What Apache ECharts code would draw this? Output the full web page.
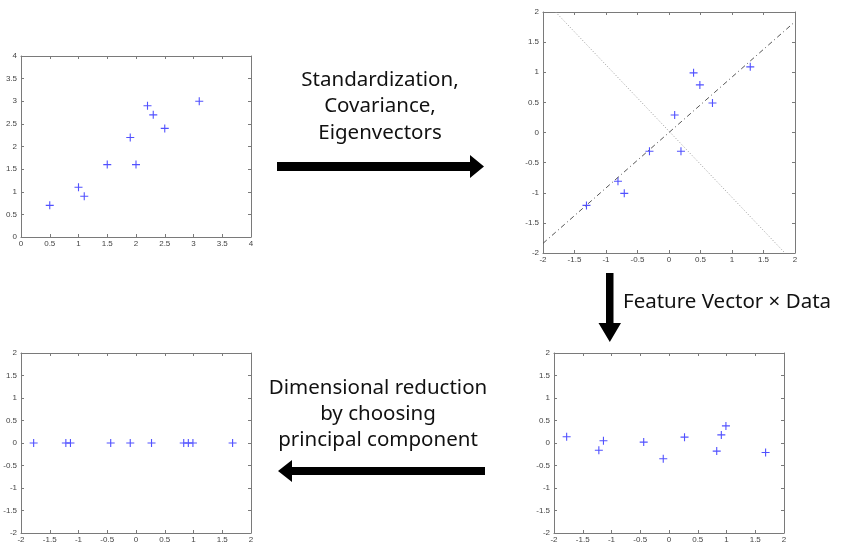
<!DOCTYPE html>
<html>
<head>
<meta charset="utf-8">
<title>PCA steps</title>
<script src="https://cdn.jsdelivr.net/npm/echarts@6/dist/echarts.min.js"></script>
<style>
  html, body { margin: 0; padding: 0; background: #fff; }
  #chart { width: 848px; height: 544px; }
</style>
</head>
<body>
<div id="chart"></div>
<script>
// Original data
const origX = [2.5, 0.5, 2.2, 1.9, 3.1, 2.3, 2.0, 1.0, 1.5, 1.1];
const origY = [2.4, 0.7, 2.9, 2.2, 3.0, 2.7, 1.6, 1.1, 1.6, 0.9];

// Mean-adjusted data
const adjX = [0.69, -1.31, 0.39, 0.09, 1.29, 0.49, 0.19, -0.81, -0.31, -0.71];
const adjY = [0.49, -1.21, 0.99, 0.29, 1.09, 0.79, -0.31, -0.81, -0.31, -1.01];

// Eigenvector directions through the origin (endpoints on the box)
const eigenMain = [[-2, -1.84], [2, 1.84]];
const eigenMinor = [[-1.8, 2], [1.84, -2]];

// Data expressed in the eigenvector basis
const pcX = [0.83, -1.78, 0.99, 0.27, 1.68, 0.91, -0.10, -1.14, -0.44, -1.22];
const pcY = [-0.18, 0.14, 0.38, 0.13, -0.21, 0.18, -0.35, 0.05, 0.02, -0.16];

// Keeping only the principal component
const reducedY = [0, 0, 0, 0, 0, 0, 0, 0, 0, 0];

// Tick settings per panel
const ticks1 = { min: 0, max: 4, interval: 0.5 };
const ticksSym = { min: -2, max: 2, interval: 0.5 };

const pair = (xs, ys) => xs.map((x, i) => [x, ys[i]]);

const grids = [
  { left: 21, top: 56, width: 230, height: 181 },
  { left: 543, top: 12, width: 252, height: 241 },
  { left: 21, top: 353, width: 230, height: 181 },
  { left: 554, top: 353, width: 230, height: 181 }
];
const ranges = [ticks1, ticksSym, ticksSym, ticksSym];

const lineColor = '#7a7a7a';
const labelStyle = { fontSize: 8, color: '#444', fontFamily: 'Liberation Sans, Arial, sans-serif' };

const xAxes = [], yAxes = [];
grids.forEach((g, i) => {
  const r = ranges[i];
  ['bottom', 'top'].forEach(pos => {
    xAxes.push({
      type: 'value', gridIndex: i, position: pos,
      min: r.min, max: r.max, interval: r.interval,
      axisLine: { show: true, onZero: false, lineStyle: { color: lineColor, width: 1 } },
      axisTick: { show: true, inside: true, length: 3, lineStyle: { color: lineColor } },
      axisLabel: Object.assign({ show: pos === 'bottom', margin: 3 }, labelStyle),
      splitLine: { show: false }
    });
  });
  ['left', 'right'].forEach(pos => {
    yAxes.push({
      type: 'value', gridIndex: i, position: pos,
      min: r.min, max: r.max, interval: r.interval,
      axisLine: { show: true, onZero: false, lineStyle: { color: lineColor, width: 1 } },
      axisTick: { show: true, inside: true, length: 3, lineStyle: { color: lineColor } },
      axisLabel: Object.assign({ show: pos === 'left', margin: 4 }, labelStyle),
      splitLine: { show: false }
    });
  });
});

const plus = 'path://M5,0 L5,10 M0,5 L10,5';
const markerStyle = { color: 'transparent', borderColor: '#2626ff', borderWidth: 1.1 };
const scatter = (idx, data) => ({
  type: 'scatter', xAxisIndex: idx * 2, yAxisIndex: idx * 2,
  data: data, symbol: plus, symbolSize: 8, itemStyle: markerStyle, silent: true
});

const series = [
  scatter(0, pair(origX, origY)),
  {
    type: 'line', xAxisIndex: 2, yAxisIndex: 2, data: eigenMinor, symbol: 'none', silent: true,
    lineStyle: { color: '#9a9a9a', width: 1, type: [1, 2] }, clip: true
  },
  {
    type: 'line', xAxisIndex: 2, yAxisIndex: 2, data: eigenMain, symbol: 'none', silent: true,
    lineStyle: { color: '#555', width: 1, type: [5, 3, 1, 3] }, clip: true
  },
  scatter(1, pair(adjX, adjY)),
  scatter(2, pair(pcX, reducedY)),
  scatter(3, pair(pcX, pcY))
];

const textFont = '"Noto Sans", "Open Sans", sans-serif';
const label = (x, y, text, align) => ({
  type: 'text', x: x, y: y, silent: true,
  style: { text: text, fill: '#111', font: '20.5px ' + textFont, align: align || 'center', verticalAlign: 'middle' }
});

const graphic = [
  label(380, 80, 'Standardization,'),
  label(380, 106, 'Covariance,'),
  label(380, 133, 'Eigenvectors'),
  { // right arrow
    type: 'polygon', silent: true,
    shape: { points: [[277, 162], [470, 162], [470, 155], [484, 166.5], [470, 178], [470, 171], [277, 171]] },
    style: { fill: '#000' }
  },
  { // down arrow
    type: 'polygon', silent: true,
    shape: { points: [[606, 273], [613.5, 273], [613.5, 323], [621, 323], [609.8, 342], [598.5, 323], [606, 323]] },
    style: { fill: '#000' }
  },
  label(623, 302, 'Feature Vector \u00d7 Data', 'left'),
  label(378, 388, 'Dimensional reduction'),
  label(378, 414, 'by choosing'),
  label(378, 440, 'principal component'),
  { // left arrow
    type: 'polygon', silent: true,
    shape: { points: [[485, 467], [292, 467], [292, 460], [278, 471], [292, 482], [292, 475], [485, 475]] },
    style: { fill: '#000' }
  }
];

const chart = echarts.init(document.getElementById('chart'), null, { renderer: 'canvas' });
chart.setOption({
  animation: false,
  backgroundColor: '#fff',
  grid: grids,
  xAxis: xAxes,
  yAxis: yAxes,
  series: series,
  graphic: graphic
});
</script>
</body>
</html>
